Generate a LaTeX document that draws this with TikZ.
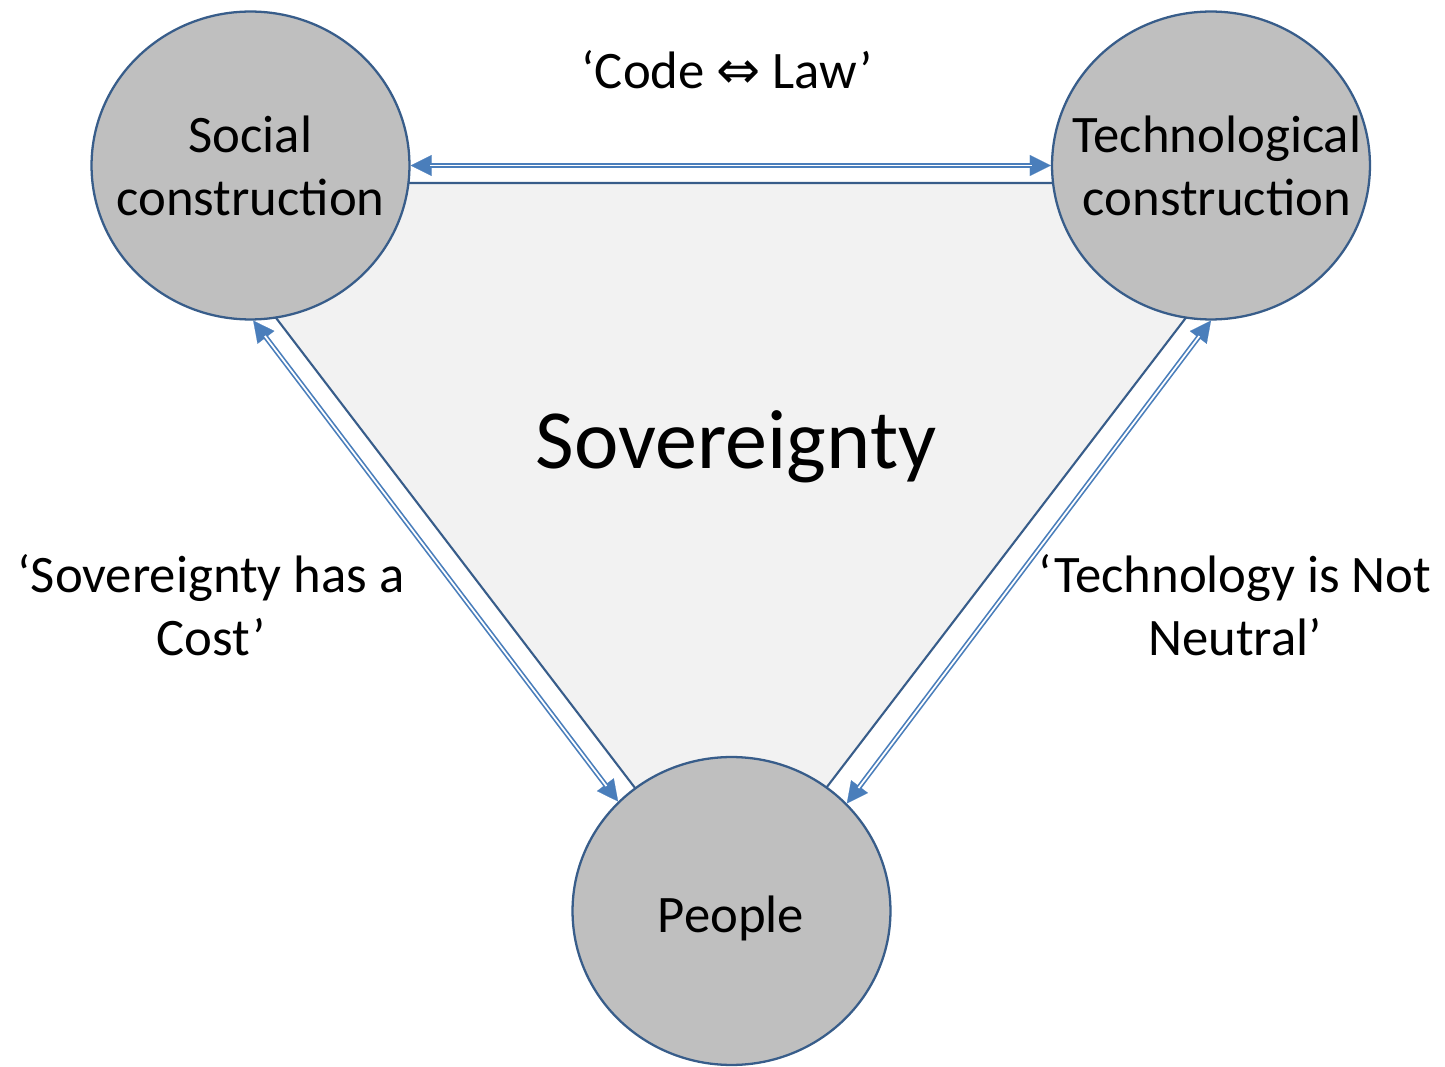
\documentclass[tikz,border=0pt]{standalone}
\usepackage{fontspec}
\setmainfont{Carlito}
\newfontfamily\symfont{DejaVu Sans}
\usetikzlibrary{shapes.geometric,arrows.meta}
\definecolor{circfill}{HTML}{BFBFBF}
\definecolor{circline}{HTML}{385D8A}
\definecolor{trifill}{HTML}{F2F2F2}
\definecolor{arrowc}{HTML}{4A7EBB}
\begin{document}
\begin{tikzpicture}[x=0.02cm,y=-0.02cm,
  bubble/.style={ellipse,draw=circline,fill=circfill,line width=1.3pt,
    minimum width=6.36cm,minimum height=6.16cm,inner sep=0pt},
  txt/.style={font=\fontsize{30pt}{35.7pt}\selectfont,align=center,inner sep=0pt},
  bigtxt/.style={font=\fontsize{47.9pt}{57pt}\selectfont,inner sep=0pt},
  tri/.style={draw=circline,fill=trifill,line width=1.2pt,line join=miter},
  tips/.style={draw=arrowc,line width=0.1pt,
    {Triangle[length=12pt,width=12pt]}-{Triangle[length=12pt,width=12pt]}},
  conn/.style={draw=arrowc,line width=0.95pt,double=white,double distance=1pt,
    shorten <=11pt,shorten >=11pt},
]
\useasboundingbox (0,0) rectangle (1445,1067);
\coordinate (t1) at (173,183);
\coordinate (t2) at (1289,183);
\coordinate (t3) at (730.5,913);
\filldraw[tri] (t1) -- (t2) -- (t3) -- cycle;
\node[bubble] (soc) at (250.5,165.5) {};
\node[bubble] (tech) at (1211,165.5) {};
\node[bubble] (ppl) at (731.5,911) {};
\node[txt] (soct) at (250.5,166) {Social\\construction};
\node[txt] (techt) at (1217,166) {Technological\\construction};
\node[txt] (pplt) at (731,918) {People};
\node[bigtxt] (sov) at (736,447) {Sovereignty};
\node[txt] (code) at (727,70) {‘Code {\symfont ⇔} Law’};
\node[txt] (costl) at (211,605) {‘Sovereignty has a\\Cost’};
\node[txt] (neutl) at (1235,605) {‘Technology is Not\\Neutral’};
\draw[tips] (soc.0) -- (tech.180);
\draw[tips] (soc.-89) -- (ppl.136.4);
\draw[tips] (tech.-90) -- (ppl.43.8);
\draw[conn] (soc.0) -- (tech.180);
\draw[conn] (soc.-89) -- (ppl.136.4);
\draw[conn] (tech.-90) -- (ppl.43.8);
\end{tikzpicture}
\end{document}
